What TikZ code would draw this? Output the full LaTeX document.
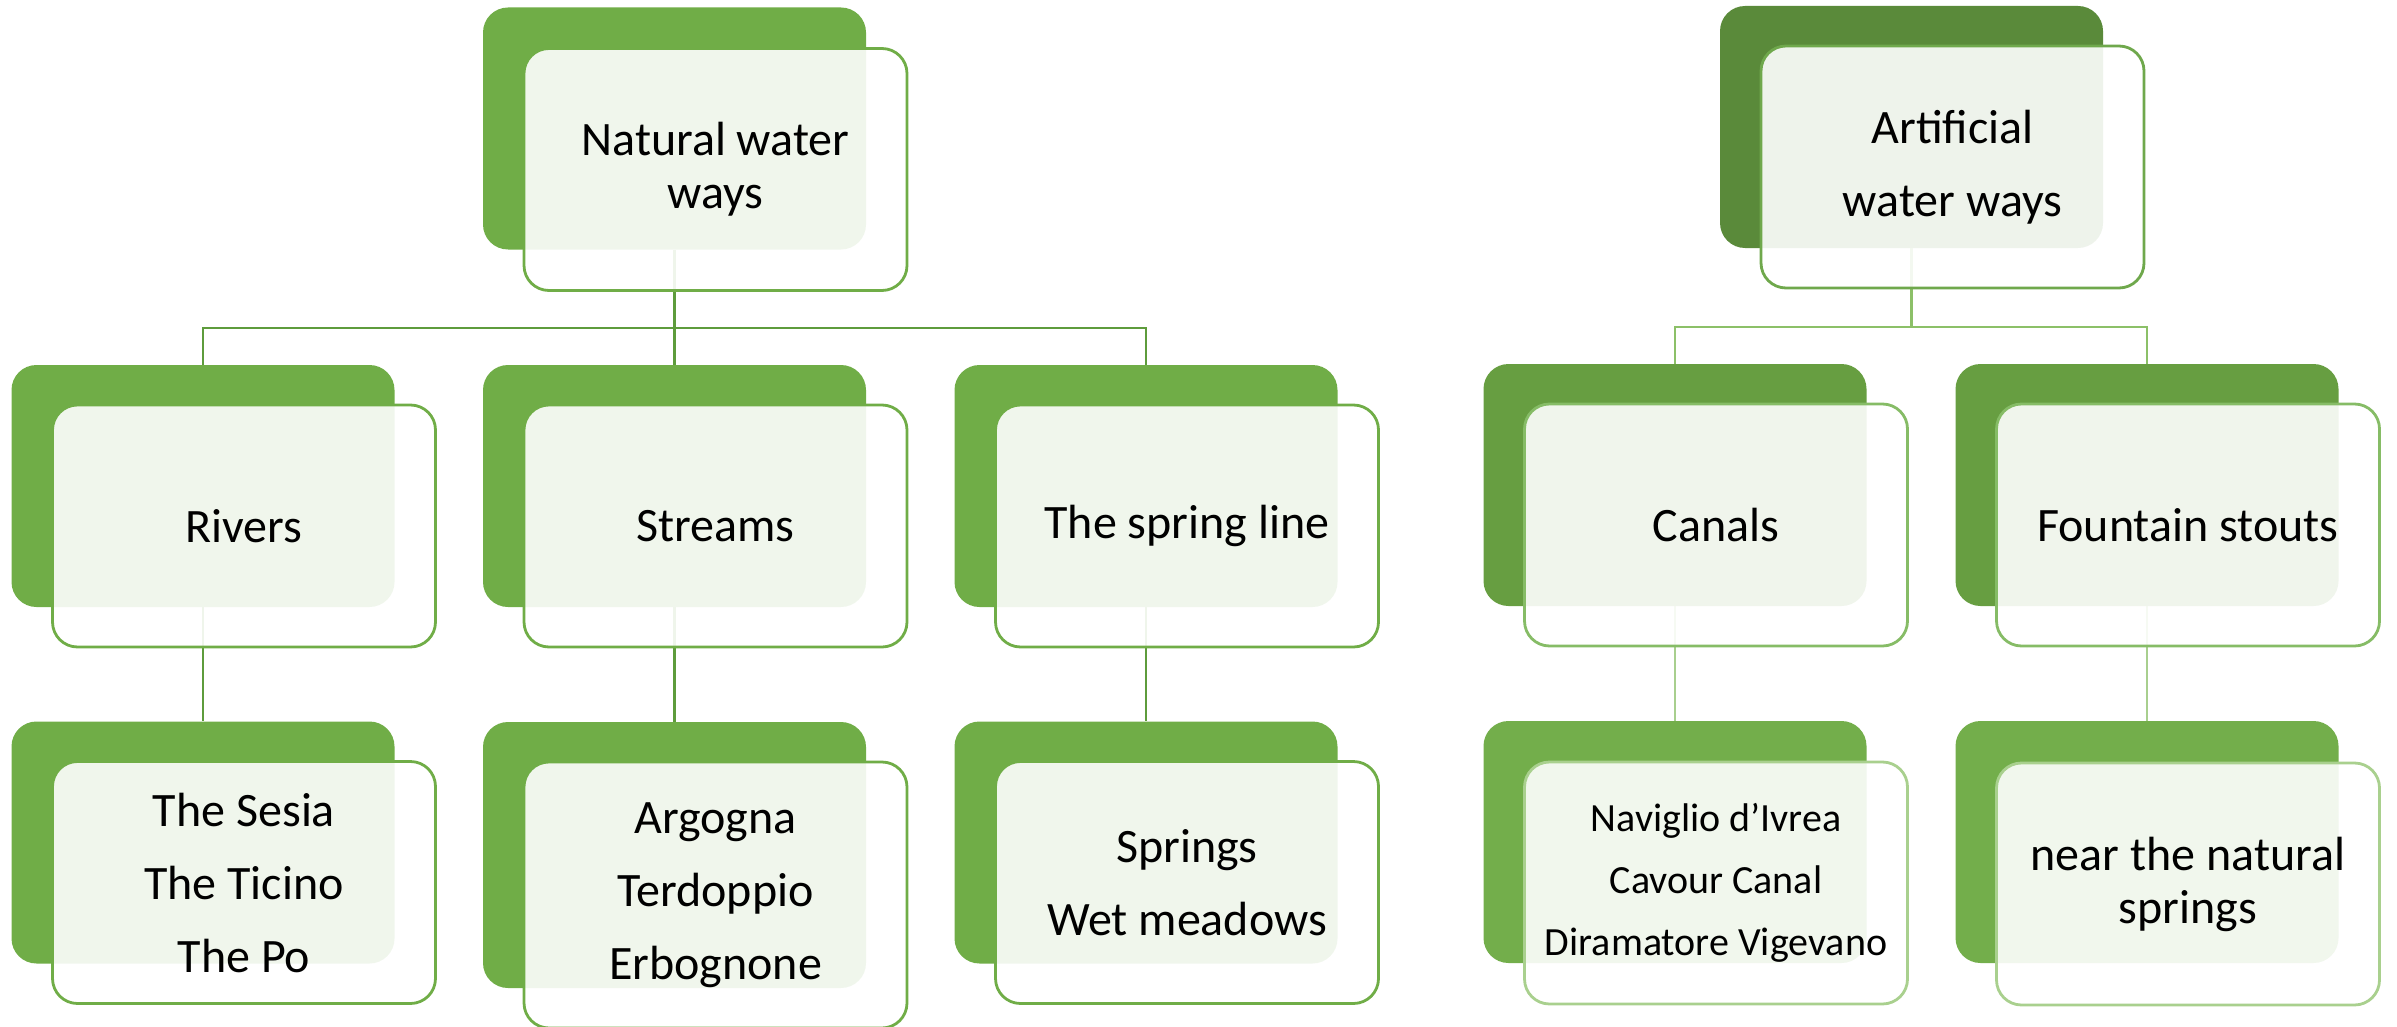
\documentclass[tikz,border=0pt]{standalone}
\usepackage{fontspec}
\setmainfont{Carlito}
\usetikzlibrary{calc}
\pgfdeclarelayer{bg}
\pgfsetlayers{bg,main}
\definecolor{gMain}{HTML}{70AD47}
\definecolor{gDark}{HTML}{5A8A3A}
\definecolor{gMid}{HTML}{679E41}
\definecolor{gLt}{HTML}{73AE4B}
\definecolor{cL}{HTML}{5E9C3C}
\definecolor{cR1}{HTML}{8CC068}
\definecolor{cR2}{HTML}{A8CF8E}
\definecolor{fR1}{HTML}{6FA84C}
\definecolor{fR2}{HTML}{86BC66}
\definecolor{fR3}{HTML}{A9D08E}
\begin{document}
\begin{tikzpicture}[x=1pt,y=-1pt,
  backbox/.style={rectangle, rounded corners=25pt, minimum width=383pt, minimum height=242pt, inner sep=0pt, fill=#1},
  frontbox/.style={rectangle, rounded corners=25pt, minimum width=383pt, minimum height=242pt, inner sep=0pt,
     fill=white, fill opacity=0.9, text opacity=1, draw=#1, line width=2.8pt, align=center, text=black,
     font=\fontsize{48}{53}\selectfont},
  listtext/.style={font=\fontsize{48}{73}\selectfont},
  smalllist/.style={font=\fontsize{40}{62}\selectfont},
  conn/.style={draw=#1, line width=2.2pt}]
\useasboundingbox (0,0) rectangle (2397,1027);

% ---------- left tree ----------
\node[backbox=gMain] (natB) at (674.5,128.5) {};
\node[frontbox=gMain] (nat) at ($(natB)+(41,41)$) {Natural water\\ways};

\node[backbox=gMain] (rivB) at (203,486) {};
\node[frontbox=gMain] (riv) at ($(rivB)+(41,40)$) {Rivers};
\node[backbox=gMain] (strB) at (674.5,486) {};
\node[frontbox=gMain] (str) at ($(strB)+(41,40)$) {Streams};
\node[backbox=gMain] (sprB) at (1146,486) {};
\node[frontbox=gMain] (spr) at ($(sprB)+(41,40)$) {The spring line};

\node[backbox=gMain] (rivcB) at (203,842.5) {};
\node[frontbox=gMain, listtext] (rivc) at ($(rivcB)+(41,40)$) {The Sesia\\The Ticino\\The Po};
\node[backbox=gMain, minimum height=266pt] (strcB) at (674.5,855) {};
\node[frontbox=gMain, listtext, minimum height=266pt] (strc) at ($(strcB)+(41,40)$) {Argogna\\Terdoppio\\Erbognone};
\node[backbox=gMain] (sprcB) at (1146,842.5) {};
\node[frontbox=gMain, listtext] (sprc) at ($(sprcB)+(41,40)$) {Springs\\Wet meadows};

% ---------- right tree ----------
\node[backbox=gDark] (artB) at (1911.5,127) {};
\node[frontbox=fR1, font=\fontsize{48}{73}\selectfont] (art) at ($(artB)+(41,40)$) {Artificial\\water ways};

\node[backbox=gMid] (canB) at (1675,485) {};
\node[frontbox=fR2] (can) at ($(canB)+(41,40)$) {Canals};
\node[backbox=gMid] (fouB) at (2147,485) {};
\node[frontbox=fR2] (fou) at ($(fouB)+(41,40)$) {Fountain stouts};

\node[backbox=gLt] (cancB) at (1675,842) {};
\node[frontbox=fR3, smalllist] (canc) at ($(cancB)+(41,41)$) {Naviglio d’Ivrea\\Cavour Canal\\Diramatore Vigevano};
\node[backbox=gLt] (foucB) at (2147,842) {};
\node[frontbox=fR3] (fouc) at ($(foucB)+(41,42)$) {near the natural\\springs};

% ---------- connectors ----------
\begin{pgfonlayer}{bg}
\coordinate (jL) at (674.5,328);
\draw[conn=cL] (natB.south) -- (jL);
\draw[conn=cL] (rivB.north) |- (jL) -| (sprB.north);
\draw[conn=cL] (strB.north) -- (jL);
\draw[conn=cL] (rivB.south) -- (rivcB.north);
\draw[conn=cL] (strB.south) -- (strcB.north);
\draw[conn=cL] (sprB.south) -- (sprcB.north);

\coordinate (jR) at (1911.5,327);
\draw[conn=cR1] (artB.south) -- (jR);
\draw[conn=cR1] (canB.north) |- (jR) -| (fouB.north);
\draw[conn=cR2] (canB.south) -- (cancB.north);
\draw[conn=cR2] (fouB.south) -- (foucB.north);
\end{pgfonlayer}
\end{tikzpicture}
\end{document}
